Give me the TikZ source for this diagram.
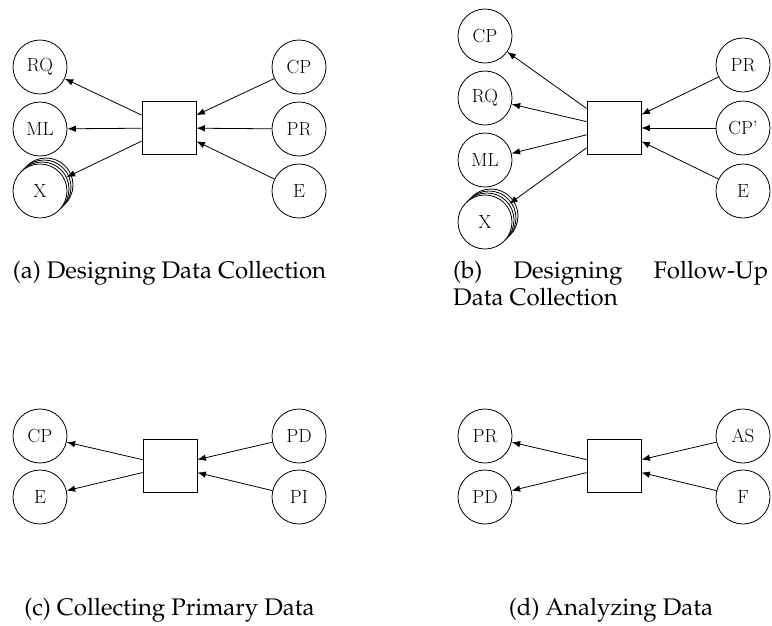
\documentclass[tikz,border=0pt]{standalone}
\usepackage[T1,TU]{fontenc}
\usetikzlibrary{arrows.meta}
% Palatino for the sub-captions, Latin Modern inside the nodes
\newcommand{\capfont}{\fontencoding{T1}\fontfamily{ppl}\fontsize{24}{27}\selectfont}
\newcommand{\nodefont}{\fontsize{19}{22}\selectfont}
\tikzset{
  ent/.style={circle, draw, line width=0.8pt, fill=white, minimum size=54pt, inner sep=0pt, font=\nodefont},
  act/.style={rectangle, draw, line width=0.8pt, minimum width=54pt, minimum height=53pt, inner sep=0pt},
  flow/.style={-{Latex[length=8.5pt,width=6.5pt]}, line width=0.8pt},
  subcap/.style={font=\capfont, inner sep=0pt}
}
\begin{document}
\begin{tikzpicture}[x=1pt,y=-1pt]
\useasboundingbox (0,0) rectangle (772,625);

% ---------- (a) Designing Data Collection ----------
\node[ent] (RQa) at (40,67) {RQ};
\node[ent] (MLa) at (40,129) {ML};
\node[ent] (Xa3) at (46,185) {};
\node[ent] (Xa2) at (44,187) {};
\node[ent] (Xa1) at (42,189) {};
\node[ent] (Xa) at (40,191) {X};
\node[act] (Aa) at (169,128) {};
\node[ent] (CPa) at (299,67) {CP};
\node[ent] (PRa) at (299,129) {PR};
\node[ent] (Ea) at (299,191) {E};
\draw[flow] (Aa) -- (RQa);
\draw[flow] (Aa) -- (MLa);
\draw[flow] (Aa) -- (Xa1);
\draw[flow] (CPa) -- (Aa);
\draw[flow] (PRa) -- (Aa);
\draw[flow] (Ea) -- (Aa);
\node[subcap, anchor=base] (capa) at (169.5,278) {(a) Designing Data Collection};

% ---------- (b) Designing Follow-Up Data Collection ----------
\node[ent] (CPb) at (485,36) {CP};
\node[ent] (RQb) at (485,98) {RQ};
\node[ent] (MLb) at (485,160) {ML};
\node[ent] (Xb3) at (491,216) {};
\node[ent] (Xb2) at (489,218) {};
\node[ent] (Xb1) at (487,220) {};
\node[ent] (Xb) at (485,222) {X};
\node[act] (Ab) at (614,128) {};
\node[ent] (PRb) at (743,65) {PR};
\node[ent] (CPpb) at (743,128) {CP'};
\node[ent] (Eb) at (743,191) {E};
\draw[flow] (Ab) -- (CPb);
\draw[flow] (Ab) -- (RQb);
\draw[flow] (Ab) -- (MLb);
\draw[flow] (Ab) -- (Xb1);
\draw[flow] (PRb) -- (Ab);
\draw[flow] (CPpb) -- (Ab);
\draw[flow] (Eb) -- (Ab);
\node[subcap, anchor=base west, align=left] (capb) at (453,305)
  {\makebox[315pt][s]{(b) Designing Follow-Up}\\Data Collection};

% ---------- (c) Collecting Primary Data ----------
\node[ent] (CPc) at (40,436) {CP};
\node[ent] (Ec) at (40,497) {E};
\node[act] (Ac) at (170,466) {};
\node[ent] (PDc) at (299,436) {PD};
\node[ent] (PIc) at (299,497) {PI};
\draw[flow] (Ac) -- (CPc);
\draw[flow] (Ac) -- (Ec);
\draw[flow] (PDc) -- (Ac);
\draw[flow] (PIc) -- (Ac);
\node[subcap, anchor=base] (capc) at (169.5,615) {(c) Collecting Primary Data};

% ---------- (d) Analyzing Data ----------
\node[ent] (PRd) at (485,436) {PR};
\node[ent] (PDd) at (485,497) {PD};
\node[act] (Ad) at (614,466) {};
\node[ent] (ASd) at (743,436) {AS};
\node[ent] (Fd) at (743,497) {F};
\draw[flow] (Ad) -- (PRd);
\draw[flow] (Ad) -- (PDd);
\draw[flow] (ASd) -- (Ad);
\draw[flow] (Fd) -- (Ad);
\node[subcap, anchor=base] (capd) at (611,615) {(d) Analyzing Data};
\end{tikzpicture}
\end{document}
